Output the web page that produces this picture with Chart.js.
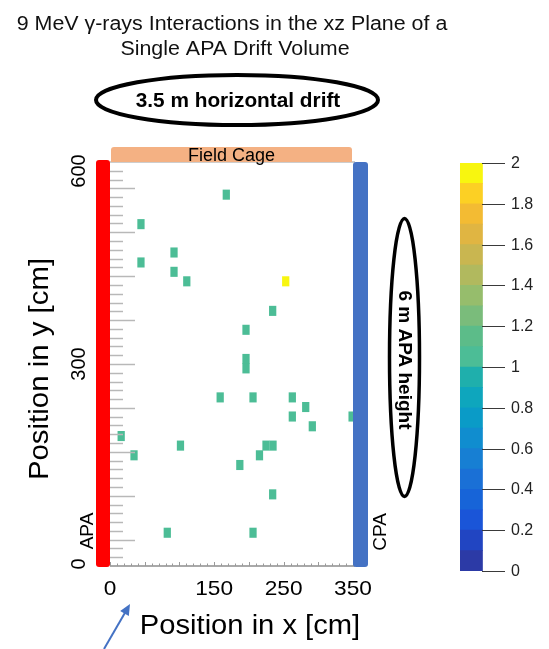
<!DOCTYPE html>
<html><head><meta charset="utf-8">
<script src="https://cdn.jsdelivr.net/npm/chart.js@4.4.1/dist/chart.umd.min.js"></script>
<style>
html,body{margin:0;padding:0;background:#fff;}
#wrap{position:relative;width:549px;height:649px;background:#fff;}
#wrap canvas{position:absolute;left:0;top:0;}
#cbar{pointer-events:none;}
</style></head><body>
<div id="wrap"><canvas id="main" width="549" height="649"></canvas><canvas id="cbar" width="549" height="649"></canvas></div>
<script>
// ---------- data ----------
const titleLines = ['9 MeV \u03b3-rays Interactions in the xz Plane of a', 'Single APA Drift Volume'];
const xTickValues = [0, 150, 250, 350];
const xTickLabels = ['0', '150', '250', '350'];
const yTickValues = [0, 300, 600];
const yTickLabels = ['0', '300', '600'];
// interaction cells: bin centre x [cm], bin centre y [cm], counts
const cellX = [167.5, 44.6, 92.2, 44.6, 92.2, 110.6, 253.1, 234.3, 195.9, 195.9, 195.9,
               158.7, 206.0, 262.6, 281.9, 262.6, 348.7, 291.4, 16.1, 101.5, 224.7, 234.8,
               34.6, 215.3, 187.0, 234.3, 82.5, 206.0];
const cellY = [551.5, 507.7, 465.6, 450.8, 436.9, 422.8, 422.8, 378.9, 350.8, 307.5, 293.5,
               250.4, 250.4, 250.4, 236.1, 222.0, 222.0, 207.5, 193.0, 178.8, 178.8, 178.8,
               164.4, 164.4, 150.0, 106.4, 49.4, 49.4];
const cellCounts = [1, 1, 1, 1, 1, 1, 2, 1, 1, 1, 1,
                    1, 1, 1, 1, 1, 1, 1, 1, 1, 1, 1,
                    1, 1, 1, 1, 1, 1];
// colour bar
const cbLevels = [0, 0.1, 0.2, 0.3, 0.4, 0.5, 0.6, 0.7, 0.8, 0.9, 1.0,
                  1.1, 1.2, 1.3, 1.4, 1.5, 1.6, 1.7, 1.8, 1.9, 2.0];
const cbColors = ['#2c3aa6', '#2145c2', '#1a55d8', '#1764d8', '#1a70d6', '#177fd3', '#108dcf',
                  '#0a9bc7', '#0ea6bd', '#1fafac', '#4cbd96', '#5cbc89', '#7abc7b', '#96bd6c',
                  '#b1b95e', '#c9b650', '#e0b542', '#f3bb33', '#fcd024', '#f8f60f'];
const cbTickValues = [0, 0.2, 0.4, 0.6, 0.8, 1, 1.2, 1.4, 1.6, 1.8, 2];
const cbTickLabels = ['0', '0.2', '0.4', '0.6', '0.8', '1', '1.2', '1.4', '1.6', '1.8', '2'];

// ---------- helpers ----------
const FONT = '"Liberation Sans", Arial, Helvetica, sans-serif';
const BIN_H = 14;      // cm, vertical bin size
function colourFor(v) {
  for (let i = 0; i < cbColors.length; i++) {
    if (v >= cbLevels[i] && v < cbLevels[i + 1]) return cbColors[i];
  }
  return cbColors[cbColors.length - 1];
}
function text(ctx, s, x, y, size, opts = {}) {
  ctx.save();
  ctx.translate(x, y);
  if (opts.rot) ctx.rotate(opts.rot);
  if (opts.sx) ctx.scale(opts.sx, 1);
  ctx.font = (opts.bold ? 'bold ' : '') + size + 'px ' + FONT;
  ctx.fillStyle = opts.color || '#000';
  ctx.textAlign = opts.align || 'center';
  ctx.textBaseline = opts.base || 'middle';
  ctx.fillText(s, 0, 0);
  ctx.restore();
}
function roundRect(ctx, x, y, w, h, r, fill) {
  ctx.beginPath();
  ctx.roundRect(x, y, w, h, r);
  ctx.fillStyle = fill;
  ctx.fill();
}
function ellipse(ctx, cx, cy, rx, ry, lw) {
  ctx.beginPath();
  ctx.ellipse(cx, cy, rx, ry, 0, 0, Math.PI * 2);
  ctx.lineWidth = lw;
  ctx.strokeStyle = '#000';
  ctx.stroke();
}

const decor = {
  id: 'decor',
  afterDraw(chart) {
    const ctx = chart.ctx;
    const a = chart.chartArea;
    const xs = chart.scales.x, ys = chart.scales.y;
    ctx.save();
    // frame lines
    ctx.strokeStyle = '#bdbdbd'; ctx.lineWidth = 1.5;
    ctx.beginPath(); ctx.moveTo(a.left, a.top); ctx.lineTo(a.right + 2, a.top); ctx.stroke();
    ctx.strokeStyle = '#8c8c8c';
    ctx.beginPath(); ctx.moveTo(a.left, a.bottom); ctx.lineTo(a.right + 2, a.bottom); ctx.stroke();
    // x minor ticks (inside)
    ctx.strokeStyle = '#9a9a9a'; ctx.lineWidth = 1;
    for (let v = 0; v <= 350; v += 10) {
      const px = Math.round(xs.getPixelForValue(v)) + 0.5;
      const len = v % 50 === 0 ? 4 : 2.5;
      ctx.beginPath(); ctx.moveTo(px, a.bottom); ctx.lineTo(px, a.bottom - len); ctx.stroke();
    }
    // y ticks (inside, from the left edge)
    ctx.strokeStyle = '#b8b8b8'; ctx.lineWidth = 1.5;
    const nDiv = 46;
    for (let k = 1; k < nDiv; k++) {
      const py = Math.round(ys.getPixelForValue(600 * k / nDiv)) + 0.5;
      const len = (k % 5 === 3) ? 25 : 13;
      ctx.beginPath(); ctx.moveTo(a.left, py); ctx.lineTo(a.left + len, py); ctx.stroke();
    }
    // field cage
    roundRect(ctx, a.left + 1, a.top - 15, a.right - a.left - 2, 15, [3, 3, 0, 0], '#f4b183');
    text(ctx, 'Field Cage', (a.left + a.right) / 2, a.top - 1.5, 18, { base: 'alphabetic' });
    // APA (red) and CPA (blue) planes
    roundRect(ctx, a.left - 14, a.top - 2, 14, a.bottom - a.top + 3, 3, '#ff0000');
    roundRect(ctx, a.right, a.top, 15, a.bottom - a.top + 1, 3, '#4472c4');
    // title
    text(ctx, titleLines[0], 232, 24, 20, { sx: 1.07, color: '#111' });
    text(ctx, titleLines[1], 235, 49, 20, { sx: 1.07, color: '#111' });
    // ellipse annotations
    ellipse(ctx, 237, 100, 141, 25, 4);
    text(ctx, '3.5 m horizontal drift', 238, 101, 20, { bold: true, sx: 1.04 });
    ellipse(ctx, 404.5, 357.5, 15, 139, 3.5);
    text(ctx, '6 m APA height', 404.5, 360, 19, { bold: true, rot: Math.PI / 2 });
    // APA / CPA labels
    text(ctx, 'APA', 88, 531, 19, { rot: -Math.PI / 2 });
    text(ctx, 'CPA', 381, 532, 19, { rot: -Math.PI / 2 });
    // y tick labels
    yTickValues.forEach((v, i) => {
      text(ctx, yTickLabels[i], 79, ys.getPixelForValue(v) + (v === 600 ? 9 : (v === 0 ? -2 : 0)), 20, { rot: -Math.PI / 2 });
    });
    // x tick labels
    xTickValues.forEach((v, i) => {
      text(ctx, xTickLabels[i], xs.getPixelForValue(v), 589, 21, { sx: 1.08 });
    });
    // axis titles
    text(ctx, 'Position in x [cm]', 250, 627, 27, { sx: 1.08 });
    text(ctx, 'Position in y [cm]', 40, 369, 28, { rot: -Math.PI / 2, sx: 1.05 });
    // blue arrow
    ctx.strokeStyle = '#4472c4'; ctx.fillStyle = '#4472c4'; ctx.lineWidth = 2;
    const x0 = 104, y0 = 649, x1 = 130, y1 = 604;
    const ang = Math.atan2(y1 - y0, x1 - x0);
    ctx.beginPath(); ctx.moveTo(x0, y0); ctx.lineTo(x1 - 8 * Math.cos(ang), y1 - 8 * Math.sin(ang)); ctx.stroke();
    ctx.beginPath();
    ctx.moveTo(x1, y1);
    ctx.lineTo(x1 - 11 * Math.cos(ang) + 5 * Math.sin(ang), y1 - 11 * Math.sin(ang) - 5 * Math.cos(ang));
    ctx.lineTo(x1 - 11 * Math.cos(ang) - 5 * Math.sin(ang), y1 - 11 * Math.sin(ang) + 5 * Math.cos(ang));
    ctx.closePath(); ctx.fill();
    ctx.restore();
  }
};

new Chart(document.getElementById('main'), {
  type: 'bar',
  data: {
    datasets: [{
      data: cellX.map((x, i) => ({ x: x, y: [cellY[i] - BIN_H / 2, cellY[i] + BIN_H / 2] })),
      backgroundColor: cellCounts.map(colourFor),
      borderWidth: 0,
      barThickness: 6.6,
      grouped: false
    }]
  },
  options: {
    responsive: false,
    animation: false,
    events: [],
    plugins: { legend: { display: false }, tooltip: { enabled: false } },
    layout: { padding: { left: 110, right: 196, top: 162, bottom: 83 } },
    scales: {
      x: { type: 'linear', min: 0, max: 350, offset: false, display: false },
      y: { type: 'linear', min: 0, max: 600, display: false }
    }
  },
  plugins: [decor]
});

const cbDecor = {
  id: 'cbDecor',
  afterDraw(chart) {
    const ctx = chart.ctx, a = chart.chartArea, ys = chart.scales.y;
    ctx.save();
    ctx.strokeStyle = '#3a3a3a'; ctx.lineWidth = 1;
    cbTickValues.forEach((v, i) => {
      const py = Math.round(ys.getPixelForValue(v)) + 0.5;
      ctx.beginPath(); ctx.moveTo(a.right - 23, py); ctx.lineTo(a.right, py); ctx.stroke();
      text(ctx, cbTickLabels[i], a.right + 6, py, 16, { align: 'left', color: '#222' });
    });
    ctx.restore();
  }
};

new Chart(document.getElementById('cbar'), {
  type: 'bar',
  data: {
    labels: [''],
    datasets: cbColors.map((c, i) => ({
      data: [[cbLevels[i], cbLevels[i + 1]]],
      backgroundColor: c,
      borderWidth: 0,
      barPercentage: 1,
      categoryPercentage: 1,
      grouped: false
    }))
  },
  options: {
    responsive: false,
    animation: false,
    events: [],
    plugins: { legend: { display: false }, tooltip: { enabled: false } },
    layout: { padding: { left: 460, right: 44, top: 163, bottom: 78 } },
    scales: {
      x: { display: false, offset: false },
      y: { type: 'linear', min: 0, max: 2, display: false }
    }
  },
  plugins: [cbDecor]
});
</script>
</body></html>
